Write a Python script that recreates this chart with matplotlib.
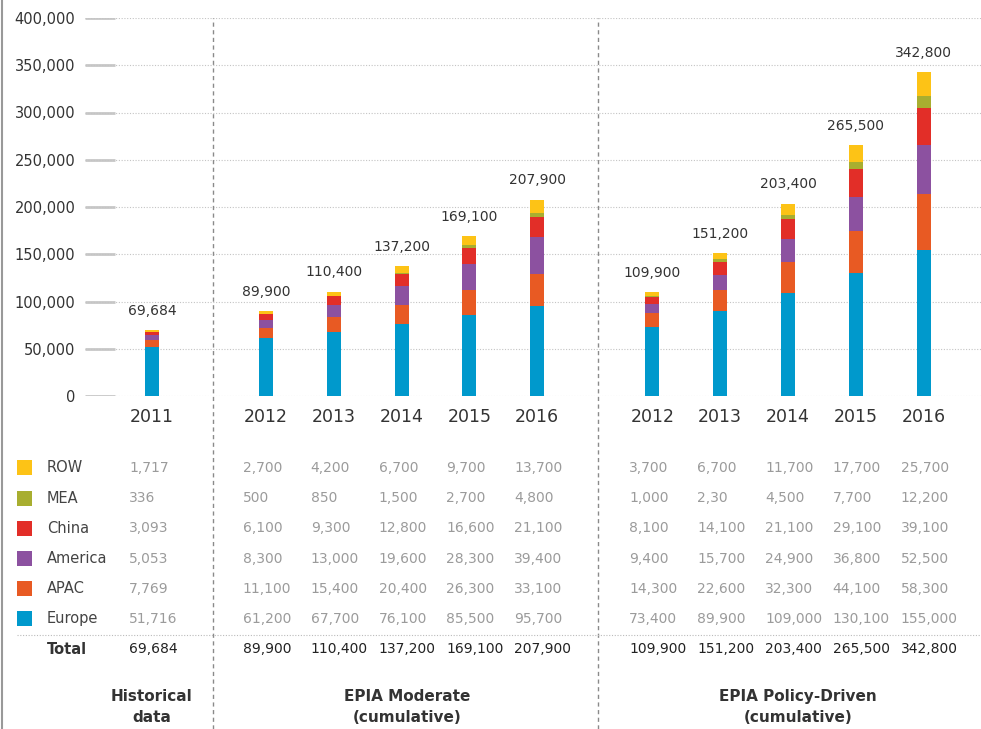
import numpy as np
import matplotlib
matplotlib.use('Agg')
import matplotlib.pyplot as plt
from matplotlib.patches import Rectangle
from matplotlib.lines import Line2D

# regions, bottom of the stack first
regions = ['Europe', 'APAC', 'America', 'China', 'MEA', 'ROW']
colors = ['#0099cc', '#e85a23', '#8c51a0', '#e22e28', '#a8ae30', '#fdc316']

years_hist = ['2011']
years_mod = ['2012', '2013', '2014', '2015', '2016']
years_pol = ['2012', '2013', '2014', '2015', '2016']

# one row per region (Europe, APAC, America, China, MEA, ROW)
hist_vals = [[51716], [7769], [5053], [3093], [336], [1717]]
mod_vals = [
    [61200, 67700, 76100, 85500, 95700],
    [11100, 15400, 20400, 26300, 33100],
    [8300, 13000, 19600, 28300, 39400],
    [6100, 9300, 12800, 16600, 21100],
    [500, 850, 1500, 2700, 4800],
    [2700, 4200, 6700, 9700, 13700],
]
pol_vals = [
    [73400, 89900, 109000, 130100, 155000],
    [14300, 22600, 32300, 44100, 58300],
    [9400, 15700, 24900, 36800, 52500],
    [8100, 14100, 21100, 29100, 39100],
    [1000, 2300, 4500, 7700, 12200],
    [3700, 6700, 11700, 17700, 25700],
]
hist_tot = [69684]
mod_tot = [89900, 110400, 137200, 169100, 207900]
pol_tot = [109900, 151200, 203400, 265500, 342800]

# the table in the source prints this one cell short
pol_mea_text = ['1,000', '2,30', '4,500', '7,700', '12,200']

group_names = ['Historical\ndata', 'EPIA Moderate\n(cumulative)', 'EPIA Policy-Driven\n(cumulative)']

W, H = 981, 729
UNIT = 67.8  # px between neighbouring bars
ROWH = 30.2  # px between table rows


def px_to_x(px):
    return (px - 152) / UNIT


def px_to_row(py):
    return (py - 468) / ROWH


x_hist = np.array([0.0])
x_mod = 1.68 + np.arange(5)
x_pol = x_mod[-1] + 1.7 + np.arange(5)

fig = plt.figure(figsize=(W / 100, H / 100), dpi=100)
ax = fig.add_axes([85 / W, (H - 396) / H, (W - 85) / W, 378 / H])
tab = fig.add_axes([0, 0, 1, (H - 396) / H])

ax.set_xlim(px_to_x(85), px_to_x(W))
ax.set_ylim(0, 400000)
yt = np.arange(0, 400001, 50000)
ax.set_yticks(yt)
ax.yaxis.set_major_formatter(matplotlib.ticker.StrMethodFormatter('{x:,.0f}'))
ax.yaxis.grid(True, linestyle=(0, (1, 1.5)), color='#c4c4c4', lw=0.8)
ax.hlines(yt, 0, 30 / (W - 85), transform=ax.get_yaxis_transform(),
          color='#c8c8c8', lw=2, zorder=1)
for s in ax.spines.values():
    s.set_visible(False)
ax.tick_params(axis='y', length=0, pad=7, labelsize=10.5, labelcolor='#333333')

all_x = np.concatenate([x_hist, x_mod, x_pol])
ax.set_xticks(all_x, years_hist + years_mod + years_pol)
ax.tick_params(axis='x', length=0, pad=9, labelsize=12.5, labelcolor='#333333')

bw = 14 / UNIT
for xs, vals, tots in [(x_hist, hist_vals, hist_tot), (x_mod, mod_vals, mod_tot),
                       (x_pol, pol_vals, pol_tot)]:
    bottom = np.zeros(len(xs))
    for name, v, c in zip(regions, vals, colors):
        bars = ax.bar(xs, v, bw, bottom=bottom, color=c, zorder=2, label=name)
        bottom += np.array(v)
    ax.bar_label(bars, labels=[f'{t:,}' for t in tots], padding=9,
                 fontsize=10, color='#333333')

# dashed group separators, running down through the table
for sx in [px_to_x(213), px_to_x(598)]:
    ax.axvline(sx, ymin=-(H - 396) / 378, ymax=1, clip_on=False,
               color='#8a8a8a', lw=1, ls=(0, (3, 2.5)), zorder=3)

# table below the chart
tab.set_xlim(px_to_x(0), px_to_x(W))
tab.set_ylim(px_to_row(H), px_to_row(396))
tab.axis('off')

off = 23 / UNIT
table_order = list(range(len(regions)))[::-1]  # ROW on top
for row, ri in enumerate(table_order):
    tab.add_patch(Rectangle((px_to_x(17), row - 0.25), 15 / UNIT, 15 / ROWH,
                            color=colors[ri], lw=0))
    tab.text(px_to_x(47), row, regions[ri], ha='left', va='center',
             fontsize=10.5, color='#444444')
    cells = [(x_hist, [f'{v:,}' for v in hist_vals[ri]]),
             (x_mod, [f'{v:,}' for v in mod_vals[ri]]),
             (x_pol, pol_mea_text if regions[ri] == 'MEA' else [f'{v:,}' for v in pol_vals[ri]])]
    for xs, txts in cells:
        for x, t in zip(xs, txts):
            tab.text(x - off, row, t, ha='left', va='center', fontsize=10, color='#9b9b9b')

trow = len(regions)
tab.plot([px_to_x(17), px_to_x(W)], [px_to_row(635)] * 2, ls=(0, (1, 1.5)),
         color='#bbbbbb', lw=0.8)
tab.text(px_to_x(47), trow, 'Total', ha='left', va='center', fontsize=10.5,
         color='#333333', fontweight='bold')
for xs, tots in [(x_hist, hist_tot), (x_mod, mod_tot), (x_pol, pol_tot)]:
    for x, t in zip(xs, tots):
        tab.text(x - off, trow, f'{t:,}', ha='left', va='center', fontsize=10, color='#222222')

gx = [x_hist.mean(), x_mod.mean() + 0.08, x_pol.mean() + 0.15]
for x, g in zip(gx, group_names):
    tab.text(x, px_to_row(707), g, ha='center', va='center', fontsize=11,
             fontweight='bold', color='#333333', linespacing=1.45)

fig.add_artist(Line2D([2 / W, 2 / W], [0, 1], color='#999999', lw=1.5))

fig.savefig('out.png', dpi=100)
